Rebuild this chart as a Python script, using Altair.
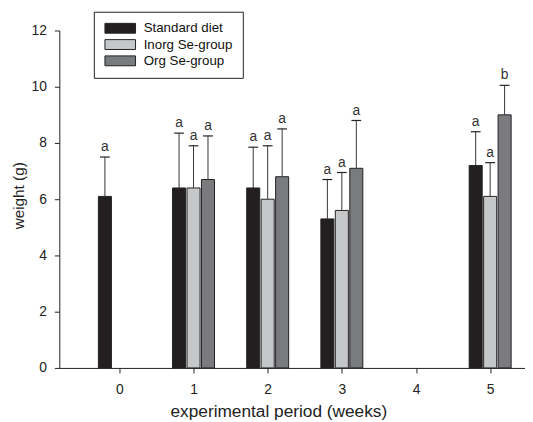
import altair as alt
import pandas as pd

groups = ["Standard diet", "Inorg Se-group", "Org Se-group"]
colors = ["#231f20", "#c6c7c9", "#7a7b7e"]
weeks = [0, 1, 2, 3, 5]
offsets = [-0.195, 0.0, 0.195]

standard_mean = [6.1, 6.4, 6.4, 5.3, 7.2]
standard_upper = [7.5, 8.35, 7.85, 6.7, 8.4]
inorg_mean = [None, 6.4, 6.0, 5.6, 6.1]
inorg_upper = [None, 7.9, 7.9, 6.95, 7.3]
org_mean = [None, 6.7, 6.8, 7.1, 9.0]
org_upper = [None, 8.25, 8.5, 8.8, 10.05]
standard_letters = ["a", "a", "a", "a", "a"]
inorg_letters = [None, "a", "a", "a", "a"]
org_letters = [None, "a", "a", "a", "b"]

x_ticks = [0, 1, 2, 3, 4, 5]
y_ticks = [0, 2, 4, 6, 8, 10, 12]

half_bar = 0.088
half_cap = 0.066

rows = []
series = [
    (standard_mean, standard_upper, standard_letters),
    (inorg_mean, inorg_upper, inorg_letters),
    (org_mean, org_upper, org_letters),
]
for gi, (means, uppers, letters) in enumerate(series):
    for wi, w in enumerate(weeks):
        if means[wi] is None:
            continue
        c = w + offsets[gi]
        rows.append(dict(
            group=groups[gi], week=w, center=c,
            x0=c - half_bar, x1=c + half_bar,
            c0=c - half_cap, c1=c + half_cap,
            mean=means[wi], upper=uppers[wi], letter=letters[wi],
        ))
df = pd.DataFrame(rows)

FONT = "Liberation Sans"
xscale = alt.Scale(domain=[-0.81, 5.47], nice=False, zero=False)
yscale = alt.Scale(domain=[0, 12], nice=False)

base = alt.Chart(df)

bars = base.mark_bar(stroke="#222222", strokeWidth=1).encode(
    x=alt.X("x0:Q", scale=xscale,
            axis=alt.Axis(values=x_ticks, format="d", title="experimental period (weeks)",
                          tickSize=5, labelPadding=10, grid=False,
                          titleX=222, titleY=35, titleBaseline="top")),
    x2="x1:Q",
    y=alt.Y("mean:Q", scale=yscale,
            axis=alt.Axis(values=y_ticks, title="weight (g)", tickSize=5, labelPadding=8,
                          grid=False, titleX=-33, titleY=167, titleFontSize=15.5)),
    y2=alt.datum(0),
    fill=alt.Fill("group:N", scale=alt.Scale(domain=groups, range=colors),
                  legend=alt.Legend(title=None, orient="none", legendX=35, legendY=-19,
                                    symbolType="M-3.1,-1H3.1V1H-3.1Z", symbolSize=100,
                                    symbolStrokeColor="#222222", symbolStrokeWidth=1,
                                    symbolOffset=10,
                                    labelFont=FONT, labelFontSize=13.5, labelColor="#111111",
                                    labelOffset=17, rowPadding=1.5,
                                    strokeColor="#222222", fillColor="white", padding=10)),
)

err = base.mark_rule(color="#333333", strokeWidth=1).encode(
    x="center:Q", y="mean:Q", y2="upper:Q"
)
caps = base.mark_rule(color="#222222", strokeWidth=1.2).encode(
    x="c0:Q", x2="c1:Q", y="upper:Q"
)
letters_layer = base.mark_text(font=FONT, fontSize=14, color="#333333", dy=-6,
                               baseline="alphabetic").encode(
    x="center:Q", y="upper:Q", text="letter:N"
)

chart = alt.layer(bars, err, caps, letters_layer).properties(
    width=472, height=342,
    autosize=alt.AutoSizeParams(type="none"),
    padding={"left": 52, "top": 20, "right": 0, "bottom": 52},
).configure_view(stroke=None).configure_axis(
    labelFont=FONT, titleFont=FONT, labelFontSize=14, titleFontSize=17.5,
    labelColor="#222222", titleColor="#222222", titleFontWeight="normal",
    domainColor="#222222", tickColor="#222222", domainWidth=1, tickWidth=1,
)

chart.save("out.html", embed_options={"renderer": "svg", "actions": False})
